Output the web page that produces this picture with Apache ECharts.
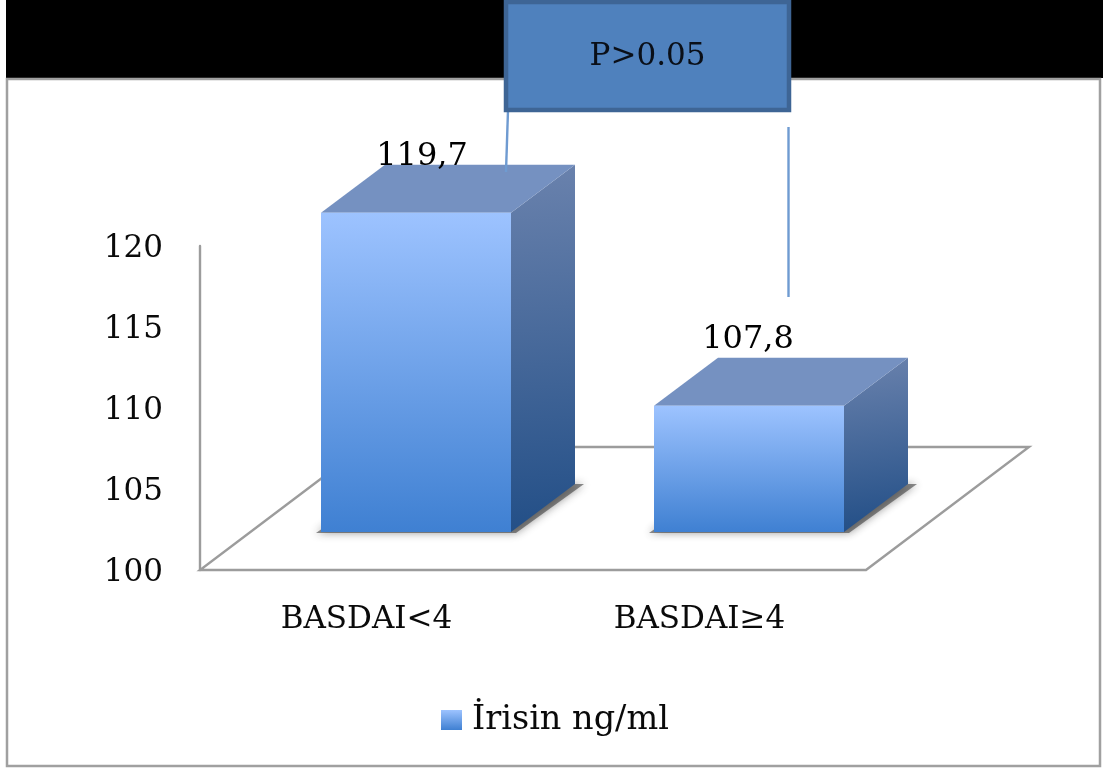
<!DOCTYPE html>
<html><head><meta charset="utf-8">
<style>html,body{margin:0;padding:0;background:#fff}#c{width:1103px;height:771px}</style>
<script src="https://cdn.jsdelivr.net/npm/echarts@6/dist/echarts.min.js"></script>
</head><body><div id="c"></div>
<script>
const categories = ['BASDAI<4', 'BASDAI≥4'];
const irisin = [119.7, 107.8];
const valueLabels = ['119,7', '107,8'];
const seriesName = 'İrisin ng/ml';
const pLabel = 'P>0.05';

const FONT = '"DejaVu Serif"';
const FS = 31;
const G = echarts.graphic;
const grad = (x, y, x2, y2, a, b) => new G.LinearGradient(x, y, x2, y2, [{offset: 0, color: a}, {offset: 1, color: b}]);
const frontFill = () => grad(0, 0, 0, 1, '#9dc3ff', '#3f80d2');
const sideFill = () => grad(0, 0, 0.35, 1, '#6a82ad', '#234f87');
const labelNudge = [[6, -56], [-1, -66]];
const DX = 64, DY = -48, BASE_UP = 38, W = 190, FROM_CENTER = -45.5;
const FLOOR_DX = 163, FLOOR_DY = -123;

function poly(points, style, extra) {
  return Object.assign({type: 'polygon', shape: {points}, style}, extra || {});
}
function renderBar(params, api) {
  const i = api.value(0), v = api.value(1);
  const c0 = api.coord([i, 100]), c1 = api.coord([i, v]);
  const x0 = c0[0] + FROM_CENTER, x1 = x0 + W;
  const yb = c0[1] - BASE_UP, yt = c1[1] - BASE_UP;
  return {type: 'group', children: [
    poly([[x0 - 5, yb + 1], [x1 + 5, yb + 1], [x1 + DX + 9, yb + DY], [x0 + DX, yb + DY]],
      {fill: 'rgba(50,50,50,0.55)', shadowBlur: 8, shadowColor: 'rgba(30,30,30,0.8)'}),
    poly([[x1, yb], [x1 + DX, yb + DY], [x1 + DX, yt + DY], [x1, yt]], {fill: sideFill()}),
    poly([[x0, yt], [x1, yt], [x1 + DX, yt + DY], [x0 + DX, yt + DY]], {fill: '#7591c1'}),
    {type: 'rect', shape: {x: x0, y: yt, width: W, height: yb - yt}, style: {fill: frontFill()}},
    {type: 'text', z2: 50, style: {text: valueLabels[i], x: (x0 + x1) / 2 + labelNudge[i][0], y: yt + labelNudge[i][1],
      font: `${FS + 1}px ${FONT}`, fill: '#000', align: 'center', verticalAlign: 'middle'}}
  ]};
}
function renderFloor(params, api) {
  const a = api.coord([0, 100]);
  const w = api.size([1, 0])[0] * 2;
  const x = a[0] - w / 4, y = a[1];
  return {type: 'polygon', shape: {points: [[x, y], [x + w, y], [x + w + FLOOR_DX, y + FLOOR_DY], [x + FLOOR_DX, y + FLOOR_DY]]},
    style: {fill: 'none', stroke: '#9c9c9c', lineWidth: 2.4}};
}

const chart = echarts.init(document.getElementById('c'), null, {renderer: 'canvas'});
const boxX = 506, boxW = 283;
chart.setOption({
  animation: false,
  backgroundColor: '#fff',
  grid: {left: 200, top: 246, width: 666, height: 324},
  xAxis: {type: 'category', data: categories,
    axisLine: {show: false}, axisTick: {show: false},
    axisLabel: {fontFamily: FONT, fontSize: FS, color: '#0a0a0a', margin: 34}},
  yAxis: {type: 'value', min: 100, max: 120, interval: 5,
    axisLine: {show: true, lineStyle: {color: '#9c9c9c', width: 2.4}}, axisTick: {show: false}, splitLine: {show: false},
    axisLabel: {margin: 37, formatter: '{t|{value}}',
      rich: {t: {fontFamily: FONT, fontSize: FS, color: '#0a0a0a', padding: [5, 0, 0, 0]}}}},
  legend: {left: 436, top: 698, itemWidth: 21, itemHeight: 20, itemGap: 0, selectedMode: false,
    data: [{name: seriesName, icon: 'rect', itemStyle: {color: frontFill()}}],
    textStyle: {fontFamily: FONT, fontSize: 33.5, color: '#0a0a0a', padding: [10, 0, 0, 5]}},
  series: [
    {type: 'custom', name: 'floor', z: 1, silent: true, data: [[0, 100]], encode: {x: 0, y: 1}, renderItem: renderFloor},
    {type: 'custom', name: seriesName, z: 3, silent: true,
      itemStyle: {color: '#4f81bd'},
      data: irisin.map((v, i) => [i, v]), encode: {x: 0, y: 1}, renderItem: renderBar}
  ],
  graphic: [
    {type: 'rect', z: 5, silent: true, shape: {x: 6, y: 0, width: 1097, height: 78}, style: {fill: '#000'}},
    {type: 'rect', z: 5, silent: true, shape: {x: 7, y: 79, width: 1093, height: 687}, style: {fill: 'none', stroke: '#a0a0a0', lineWidth: 2.5}},
    {type: 'line', z: 6, silent: true, shape: {x1: 508, y1: 110, x2: 506, y2: 172}, style: {stroke: '#6f9bd1', lineWidth: 2.4}},
    {type: 'line', z: 6, silent: true, shape: {x1: 788.5, y1: 127, x2: 788.5, y2: 297}, style: {stroke: '#6f9bd1', lineWidth: 2.4}},
    {type: 'rect', z: 7, silent: true, shape: {x: boxX, y: 2, width: boxW, height: 108}, style: {fill: '#4f81bd', stroke: '#3e6595', lineWidth: 4.5}},
    {type: 'text', z: 8, silent: true, style: {text: pLabel, x: boxX + boxW / 2, y: 57, font: `${FS}px ${FONT}`, fill: '#0a0f18', align: 'center', verticalAlign: 'middle'}}
  ]
});
</script></body></html>
